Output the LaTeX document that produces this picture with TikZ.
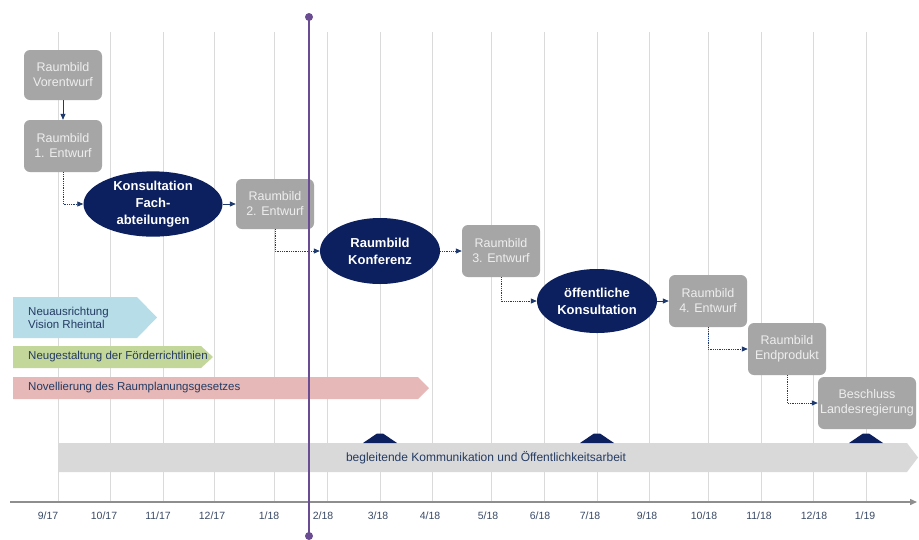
\documentclass[tikz,border=0pt]{standalone}
\usepackage{fontspec}
\setmainfont{Liberation Sans}
\usetikzlibrary{arrows.meta,shapes.geometric}

\definecolor{navy}{HTML}{0C1F5E}
\definecolor{linknavy}{HTML}{1F3A6E}
\definecolor{boxgray}{HTML}{A6A6A6}
\definecolor{boxtext}{HTML}{EEEEEE}
\definecolor{gridgray}{HTML}{DADADA}
\definecolor{axisgray}{HTML}{8E8E8E}
\definecolor{milestone}{HTML}{6A4C93}
\definecolor{barblue}{HTML}{B7DDE8}
\definecolor{bargreen}{HTML}{C4D79B}
\definecolor{barpink}{HTML}{E6B8B7}
\definecolor{bargray}{HTML}{D9D9D9}
\definecolor{bartext}{HTML}{243B63}
\definecolor{labeltext}{HTML}{3A4A66}

\tikzset{
  draftbox/.style={rectangle, rounded corners=6pt, fill=boxgray, text=boxtext,
    align=center, inner sep=0pt, font=\fontsize{12.5}{15}\selectfont},
  eventoval/.style={ellipse, fill=navy, text=white, align=center, inner sep=0pt,
    font=\bfseries\fontsize{13}{17}\selectfont},
  flowlink/.style={linknavy, line width=0.8pt, densely dotted,
    -{Triangle[length=6pt,width=5pt]}},
  gridline/.style={gridgray, line width=0.8pt},
  bartxt/.style={text=bartext, anchor=west, align=left, inner sep=0pt,
    font=\fontsize{11.5}{13}\selectfont},
  monthlabel/.style={text=labeltext, font=\fontsize{10.5}{12}\selectfont, inner sep=0pt},
  marker/.style={fill=navy}
}

\begin{document}
\begin{tikzpicture}[x=1pt,y=-1pt]
\useasboundingbox (0,0) rectangle (919,539);
\fill[white] (0,0) rectangle (919,539);

% month grid
\foreach \gx in {58,110,163,214,274,327,380,432,491,544,597,649,708,761,813,866}
  \draw[gridline] (\gx,32) -- (\gx,502);

% parallel work streams
\fill[barblue]  (13,297) -- (137,297) -- (157,317.5) -- (137,338) -- (13,338) -- cycle;
\fill[bargreen] (13,346) -- (201,346) -- (213,357) -- (201,368) -- (13,368) -- cycle;
\fill[barpink]  (13,377) -- (418,377) -- (429,388) -- (418,399) -- (13,399) -- cycle;
\fill[bargray]  (58,443) -- (907,443) -- (918,457.5) -- (907,472) -- (58,472) -- cycle;

\node[bartxt] (sRheintal) at (28,318) {Neuausrichtung\\Vision Rheintal};
\node[bartxt] (sFoerder) at (28,357) {Neugestaltung\ der Förderrichtlinien};
\node[bartxt] (sGesetz) at (28,388) {Novellierung\ des Raumplanungsgesetzes};
\node[bartxt, anchor=center, font=\fontsize{12}{14}\selectfont] (sKomm) at (486,458)
  {begleitende Kommunikation und Öffentlichkeitsarbeit};

% communication markers
\foreach \mx in {380,597,866}
  \fill[marker] (\mx-17,443) -- (\mx-3,433.5) -- (\mx+3,433.5) -- (\mx+17,443) -- cycle;

% time axis
\draw[axisgray, line width=1.4pt, -{Triangle[length=7pt,width=6pt]}] (10,502) -- (917,502);
\foreach \lx/\lm/\ly in {48/9/17,104/10/17,158/11/17,212/12/17,269/1/18,323/2/18,378/3/18,430/4/18,
                         488/5/18,540/6/18,590/7/18,647/9/18,704/10/18,759/11/18,814/12/18,865/1/19}
  \node[monthlabel] at (\lx,516) {\lm/\ly};

% drafts and events
\node[draftbox, minimum width=78pt, minimum height=50pt] (vor) at (63,75) {Raumbild\\Vorentwurf};
\node[draftbox, minimum width=78pt, minimum height=52pt] (ent1) at (63,146) {Raumbild\\1. Entwurf};
\node[eventoval, minimum width=139pt, minimum height=60pt] (konsFach) at (153,204) {Konsultation\\Fach-\\abteilungen};
\node[draftbox, minimum width=78pt, minimum height=50pt] (ent2) at (275,204) {Raumbild\\2. Entwurf};
\node[eventoval, minimum width=120pt, minimum height=66pt] (konf) at (380,251) {Raumbild\\Konferenz};
\node[draftbox, minimum width=78pt, minimum height=52pt] (ent3) at (501,251) {Raumbild\\3. Entwurf};
\node[eventoval, minimum width=120pt, minimum height=64pt] (oeff) at (597,301) {öffentliche\\Konsultation};
\node[draftbox, minimum width=78pt, minimum height=52pt] (ent4) at (708,301) {Raumbild\\4. Entwurf};
\node[draftbox, minimum width=78pt, minimum height=52pt] (endp) at (787,349) {Raumbild\\Endprodukt};
\node[draftbox, minimum width=98pt, minimum height=52pt] (beschl) at (867,403) {Beschluss\\Landesregierung};

% process flow
\draw[flowlink, solid] (vor) -- (ent1);
\draw[flowlink] (ent1.south) |- (konsFach.west);
\draw[flowlink, solid] (konsFach) -- (ent2);
\draw[flowlink] (ent2.south) |- (konf.west);
\draw[flowlink] (konf) -- (ent3);
\draw[flowlink] (ent3.south) |- (oeff.west);
\draw[flowlink, solid] (oeff) -- (ent4);
\draw[flowlink] (ent4.south) |- (endp.west);
\draw[flowlink] (endp.south) |- (beschl.west);

% current-date marker
\coordinate (nowTop) at (309,17);
\coordinate (nowBottom) at (309,536);
\draw[milestone, line width=2.4pt] (nowTop) -- (nowBottom);
\fill[milestone] (nowTop) circle (4pt);
\fill[milestone] (nowBottom) circle (4pt);
\end{tikzpicture}
\end{document}
